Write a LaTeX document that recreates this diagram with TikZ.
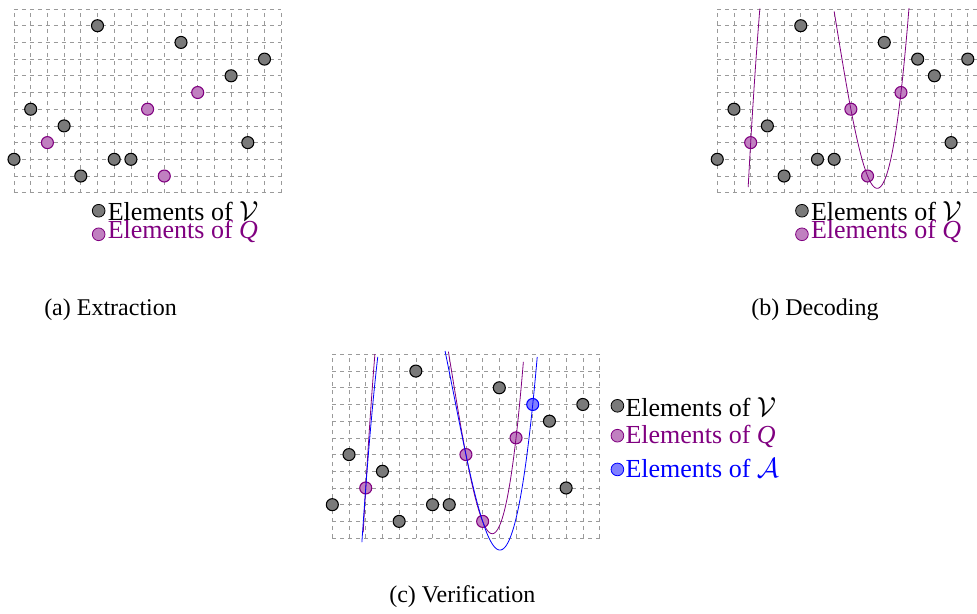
\documentclass[tikz,border=0pt]{standalone}
\usepackage{amsmath,amssymb}
\usepackage{fontspec}
\setmainfont{Liberation Serif}
\usetikzlibrary{positioning, calc}
\definecolor{ptgray}{HTML}{7A7A7A}
\definecolor{qviolet}{HTML}{800080}
\definecolor{qfill}{HTML}{C080C0}
\definecolor{afill}{HTML}{8080FF}
\definecolor{gridgray}{HTML}{9A9A9A}

\newcommand{\legfont}{\fontsize{19.5}{20}\selectfont}
\newcommand{\capfont}{\fontsize{18}{20}\selectfont}

\begin{document}
\begin{tikzpicture}[x=12.525pt, y=12.525pt,
  declare function={
    polyq(\t)=3*(\t-8)*(\t-9)*(\t-11)/(-378)+5*(\t-2)*(\t-9)*(\t-11)/18
              -(\t-2)*(\t-8)*(\t-11)/14+6*(\t-2)*(\t-8)*(\t-9)/54;
    polya(\t)=3*(\t-8)*(\t-9)*(\t-12)/(-420)+5*(\t-2)*(\t-9)*(\t-12)/24
              -(\t-2)*(\t-8)*(\t-12)/21+8*(\t-2)*(\t-8)*(\t-9)/120;},
  gridline/.style={gridgray, dashed, line width=0.5pt, step=12.525pt},
  vpt/.style={draw=black, fill=ptgray, line width=0.8pt},
  qpt/.style={draw=qviolet, fill=qfill, line width=0.8pt},
  apt/.style={draw=blue, fill=afill, line width=0.8pt},
  legdot/.style={circle, inner sep=0pt, minimum size=9.5pt, line width=0.6pt},
  legtext/.style={font=\legfont, inner sep=0pt, anchor=base west},
  captext/.style={font=\capfont, inner sep=0pt, anchor=base}]

\useasboundingbox (0,0) rectangle (58.503,-36.766);

% =========== (a) Extraction ===========
\begin{scope}[shift={(0.838,-11.54)}]
  \draw[gridline] (0,0) grid (16,11);
  \foreach \x/\y in {5/10, 10/9, 15/8, 13/7, 1/5, 3/4, 14/3, 0/2, 6/2, 7/2, 4/1}
    \draw[vpt] (\x,\y) circle (0.36);
  \foreach \x/\y in {2/3, 8/5, 11/6, 9/1}
    \draw[qpt] (\x,\y) circle (0.36);

  % legend
  \node[legdot, draw=black, fill=ptgray] (adotv) at (5.07,-1.08) {};
  \node[legtext] (alegv) at (5.6,-1.69) {Elements of $\mathcal{V}$};
  \node[legdot, draw=qviolet, fill=qfill] (adotq) at (5.07,-2.49) {};
  \node[legtext, text=qviolet] (alegq) at (5.6,-2.77) {Elements of \textit{Q}};
\end{scope}
\node[captext] (capa) at (6.62,-18.92) {(a) Extraction};

% =========== (b) Decoding ===========
\begin{scope}[shift={(42.95,-11.54)}]
  \draw[gridline] (0,0) grid (16,11);
  \foreach \x/\y in {5/10, 10/9, 12/8, 15/8, 13/7, 1/5, 3/4, 14/3, 0/2, 6/2, 7/2, 4/1}
    \draw[vpt] (\x,\y) circle (0.36);
  \foreach \x/\y in {2/3, 8/5, 11/6, 9/1}
    \draw[qpt] (\x,\y) circle (0.36);

  % interpolating polynomial of Q
  \draw[qviolet, line width=0.6pt, domain=1.85:2.55, samples=40] plot (\x, {polyq(\x)});
  \draw[qviolet, line width=0.6pt, domain=7.0:11.48, samples=120] plot (\x, {polyq(\x)});

  % legend
  \node[legdot, draw=black, fill=ptgray] (bdotv) at (5.07,-1.08) {};
  \node[legtext] (blegv) at (5.6,-1.69) {Elements of $\mathcal{V}$};
  \node[legdot, draw=qviolet, fill=qfill] (bdotq) at (5.07,-2.49) {};
  \node[legtext, text=qviolet] (blegq) at (5.6,-2.77) {Elements of \textit{Q}};
\end{scope}
\node[captext] (capb) at (48.80,-18.92) {(b) Decoding};

% =========== (c) Verification ===========
\begin{scope}[shift={(19.90,-32.22)}]
  \draw[gridline] (0,0) grid (16,11);
  \foreach \x/\y in {5/10, 10/9, 15/8, 13/7, 1/5, 3/4, 14/3, 0/2, 6/2, 7/2, 4/1}
    \draw[vpt] (\x,\y) circle (0.36);
  \foreach \x/\y in {2/3, 8/5, 11/6, 9/1}
    \draw[qpt] (\x,\y) circle (0.36);
  \draw[apt] (12,8) circle (0.36);

  % polynomials of Q and A
  \draw[qviolet, line width=0.6pt, domain=1.85:2.55, samples=40] plot (\x, {polyq(\x)});
  \draw[qviolet, line width=0.6pt, domain=6.95:11.44, samples=120] plot (\x, {polyq(\x)});
  \draw[blue, line width=0.6pt, domain=1.77:2.72, samples=40] plot (\x, {polya(\x)});
  \draw[blue, line width=0.6pt, domain=6.75:12.27, samples=140] plot (\x, {polya(\x)});

  % legend
  \node[legdot, draw=black, fill=ptgray] (cdotv) at (17.07,7.92) {};
  \node[legtext] (clegv) at (17.54,7.30) {Elements of $\mathcal{V}$};
  \node[legdot, draw=qviolet, fill=qfill] (cdotq) at (17.07,6.13) {};
  \node[legtext, text=qviolet] (clegq) at (17.54,5.69) {Elements of \textit{Q}};
  \node[legdot, draw=blue, fill=afill] (cdota) at (17.07,4.11) {};
  \node[legtext, text=blue] (clega) at (17.54,3.65) {Elements of $\mathcal{A}$};
\end{scope}
\node[captext] (capc) at (27.68,-36.05) {(c) Verification};

\end{tikzpicture}
\end{document}
